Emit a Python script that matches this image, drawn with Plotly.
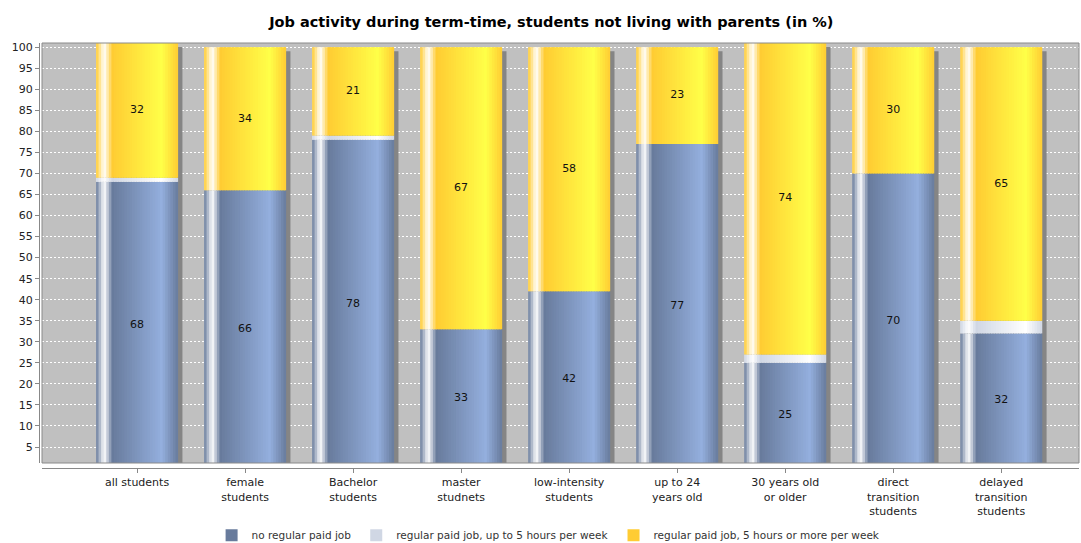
import plotly.graph_objects as go

# Data
categories = ["all students", "female<br>students", "Bachelor<br>students", "master<br>studnets",
              "low-intensity<br>students", "up to 24<br>years old", "30 years old<br>or older",
              "direct<br>transition<br>students", "delayed<br>transition<br>students"]
no_job = [68, 66, 78, 33, 42, 77, 25, 70, 32]
job_up_to_5 = [1, 0, 1, 0, 0, 0, 2, 0, 3]
job_5_plus = [32, 34, 21, 67, 58, 23, 74, 30, 65]
series_names = ["no regular paid job", "regular paid job, up to 5 hours per week",
                "regular paid job, 5 hours or more per week"]

series = [no_job, job_up_to_5, job_5_plus]
base_colors = [(104, 123, 156), (208, 215, 228), (255, 204, 51)]

font = "DejaVu Sans"


def brighter(c):
    return tuple(min(255, int(v / 0.7)) for v in c)


def lerp(a, b, t):
    return tuple(a[i] + (b[i] - a[i]) * t for i in range(3))


def gradient_color(c0, t):
    # imitates a JFreeChart-style gradient bar (highlight near the left edge)
    c1 = brighter(c0)
    white = (255, 255, 255)
    if t < 0.1:
        c = lerp(c0, white, t / 0.1)
    elif t < 0.2:
        c = lerp(white, c0, (t - 0.1) / 0.1)
    elif t < 0.8:
        c = lerp(c0, c1, (t - 0.2) / 0.6)
    else:
        c = lerp(c1, c0, (t - 0.8) / 0.2)
    return "rgb(%d,%d,%d)" % tuple(int(round(v)) for v in c)


bar_w = 0.76
n_strips = 32
strip_w = bar_w / n_strips

# stacked bases
bases = []
running = [0] * len(categories)
for vals in series:
    bases.append(list(running))
    running = [r + v for r, v in zip(running, vals)]
totals = running

fig = go.Figure()

# shadow
fig.add_trace(go.Bar(
    x=categories, y=totals, base=[-0.95] * len(categories),
    width=bar_w, offset=-bar_w / 2 + 0.04,
    marker=dict(color="#858585", line=dict(width=0)),
    showlegend=False, hoverinfo="skip"
))

for vals, b, c0 in zip(series, bases, base_colors):
    for i in range(n_strips):
        off = -bar_w / 2 + i * strip_w
        w = min(strip_w * 1.6, bar_w / 2 - off)
        fig.add_trace(go.Bar(
            x=categories, y=vals, base=b,
            width=w, offset=off,
            marker=dict(color=gradient_color(c0, (i + 0.5) / n_strips), line=dict(width=0)),
            showlegend=False, hoverinfo="skip"
        ))

# value labels (blue and yellow segments)
for idx in (0, 2):
    vals = series[idx]
    fig.add_trace(go.Scatter(
        x=categories, y=[b + v / 2 for b, v in zip(bases[idx], vals)],
        mode="text", text=[str(v) for v in vals],
        textfont=dict(family=font, size=11, color="#111"),
        showlegend=False, hoverinfo="skip"
    ))

# legend entries
for name, c0 in zip(series_names, base_colors):
    fig.add_trace(go.Bar(x=[None], y=[None], name=name,
                         marker=dict(color="rgb(%d,%d,%d)" % c0, line=dict(width=0))))

fig.update_layout(
    width=1081, height=543,
    barmode="overlay",
    paper_bgcolor="white",
    plot_bgcolor="#c0c0c0",
    margin=dict(l=39, r=2, t=43, b=75, autoexpand=False),
    title=dict(text="<b>Job activity during term-time, students not living with parents (in %)</b>",
               x=0.51, xanchor="center", y=1 - 22 / 543, yanchor="middle",
               font=dict(family=font, size=14.5, color="#000")),
    font=dict(family=font, size=11, color="#333"),
    legend=dict(orientation="h", x=0.49, xanchor="center", y=-0.158, yanchor="middle",
                font=dict(family=font, size=10.5, color="#333"), itemwidth=30,
                bgcolor="rgba(0,0,0,0)"),
    xaxis=dict(
        domain=[3 / 1040, 1], range=[-0.88, 8.72], type="category",
        showgrid=False, zeroline=False,
        showline=True, linecolor="#888", linewidth=1,
        anchor="free", position=0, automargin=False,
        ticks="outside", ticklen=4, tickcolor="#888",
        tickfont=dict(family=font, size=11, color="#222"),
    ),
    yaxis=dict(
        domain=[5 / 425, 1], range=[1.2, 101],
        tickmode="linear", tick0=5, dtick=5,
        showgrid=True, gridcolor="white", griddash="2px,2px", gridwidth=1,
        zeroline=False,
        showline=True, linecolor="#888", linewidth=1,
        anchor="free", position=0, automargin=False,
        ticks="outside", ticklen=4, tickcolor="#888",
        tickfont=dict(family=font, size=11, color="#222"),
    ),
)

# plot area border
fig.add_shape(type="rect", xref="x domain", yref="y domain", x0=0, x1=1, y0=0, y1=1,
              line=dict(color="#8a8a8a", width=1), layer="above")

# drop the page's default body margin so the figure sits at the window's corner
fig.write_html("out.html", config={"displayModeBar": False},
               post_script="document.body.style.margin = '0';")
